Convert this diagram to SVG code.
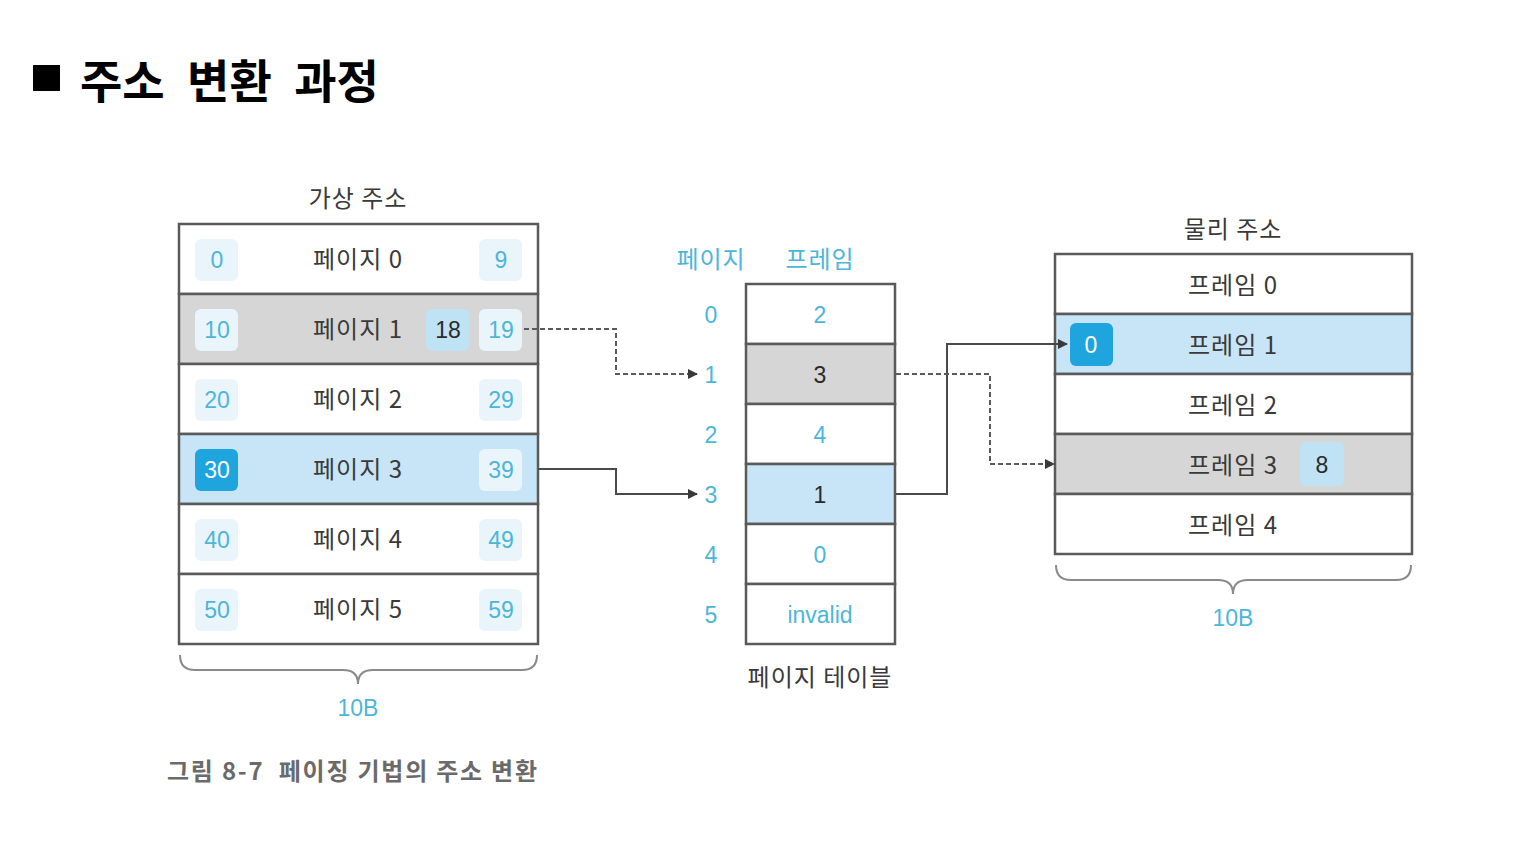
<svg xmlns="http://www.w3.org/2000/svg" width="1530" height="853" viewBox="0 0 1530 853">
<style>
.t{font-family:"Noto Sans CJK KR","Liberation Sans",sans-serif;font-size:24px;letter-spacing:1px;fill:#3a3a3a;text-anchor:middle}
.c{font-family:"Liberation Sans","Noto Sans CJK KR",sans-serif;font-size:23px;fill:#4cb6da;text-anchor:middle}
.h{font-family:"Noto Sans CJK KR",sans-serif;font-size:24px;letter-spacing:1px;fill:#4cb6da;text-anchor:middle}
.d{font-family:"Liberation Sans","Noto Sans CJK KR",sans-serif;font-size:23px;fill:#2a2a2a;text-anchor:middle}
.w{font-family:"Liberation Sans","Noto Sans CJK KR",sans-serif;font-size:23px;fill:#ffffff;text-anchor:middle}
.row{stroke:#5a5a5a;stroke-width:2.5}
.white{fill:#ffffff}
.gray{fill:#d6d6d6}
.blue{fill:#c7e5f6}
.lb{fill:#eaf5fb}
.mb{fill:#bfe2f5}
.db{fill:#1ea5de}
.line{fill:none;stroke:#4a4a4a;stroke-width:2}
.dash{fill:none;stroke:#5a5a5a;stroke-width:2;stroke-dasharray:5 3}
.brace{fill:none;stroke:#8a8a8a;stroke-width:2}
</style>
<defs>
<marker id="ah" markerWidth="10" markerHeight="10" refX="9" refY="5" orient="auto" markerUnits="userSpaceOnUse">
<path d="M0,0 L10,5 L0,10 z" fill="#3a3a3a"/>
</marker>
</defs>
<rect width="1530" height="853" fill="#ffffff"/>
<g id="title">
<rect x="33" y="65" width="27" height="26" fill="#000"/>
<text x="80" y="98" style="font-family:'Noto Sans CJK KR',sans-serif;font-size:46px;font-weight:bold;fill:#000;word-spacing:12px">주소 변환 과정</text>
</g>

<g id="virtual">
<text class="t" x="358" y="207">가상 주소</text>
<rect class="row white" x="179" y="224" width="359" height="70"/>
<rect class="row gray" x="179" y="294" width="359" height="70"/>
<rect class="row white" x="179" y="364" width="359" height="70"/>
<rect class="row blue" x="179" y="434" width="359" height="70"/>
<rect class="row white" x="179" y="504" width="359" height="70"/>
<rect class="row white" x="179" y="574" width="359" height="70"/>
<rect class="lb" x="195" y="239" width="43" height="42" rx="6"/><text class="c" x="217" y="268">0</text>
<text class="t" x="358" y="268">페이지 0</text>
<rect class="lb" x="479" y="239" width="43" height="42" rx="6"/><text class="c" x="501" y="268">9</text>
<rect class="lb" x="195" y="309" width="43" height="42" rx="6"/><text class="c" x="217" y="338">10</text>
<text class="t" x="358" y="338">페이지 1</text>
<rect class="mb" x="426" y="309" width="43" height="42" rx="6"/><text class="d" x="448" y="338">18</text>
<rect class="lb" x="479" y="309" width="43" height="42" rx="6"/><text class="c" x="501" y="338">19</text>
<rect class="lb" x="195" y="379" width="43" height="42" rx="6"/><text class="c" x="217" y="408">20</text>
<text class="t" x="358" y="408">페이지 2</text>
<rect class="lb" x="479" y="379" width="43" height="42" rx="6"/><text class="c" x="501" y="408">29</text>
<rect class="db" x="195" y="449" width="43" height="42" rx="6"/><text class="w" x="217" y="478">30</text>
<text class="t" x="358" y="478">페이지 3</text>
<rect class="lb" x="479" y="449" width="43" height="42" rx="6"/><text class="c" x="501" y="478">39</text>
<rect class="lb" x="195" y="519" width="43" height="42" rx="6"/><text class="c" x="217" y="548">40</text>
<text class="t" x="358" y="548">페이지 4</text>
<rect class="lb" x="479" y="519" width="43" height="42" rx="6"/><text class="c" x="501" y="548">49</text>
<rect class="lb" x="195" y="589" width="43" height="42" rx="6"/><text class="c" x="217" y="618">50</text>
<text class="t" x="358" y="618">페이지 5</text>
<rect class="lb" x="479" y="589" width="43" height="42" rx="6"/><text class="c" x="501" y="618">59</text>
<path class="brace" d="M180,655 Q180,670 195,670 L343,670 Q358,670 358,684 Q358,670 373,670 L522,670 Q537,670 537,655"/>
<text class="c" x="358" y="716">10B</text>
</g>

<g id="pagetable">
<text class="h" x="711" y="268">페이지</text>
<text class="h" x="820" y="268">프레임</text>
<rect class="row white" x="746" y="284" width="149" height="60"/>
<rect class="row gray" x="746" y="344" width="149" height="60"/>
<rect class="row white" x="746" y="404" width="149" height="60"/>
<rect class="row blue" x="746" y="464" width="149" height="60"/>
<rect class="row white" x="746" y="524" width="149" height="60"/>
<rect class="row white" x="746" y="584" width="149" height="60"/>
<text class="c" x="711" y="323">0</text><text class="c" x="820" y="323">2</text>
<text class="c" x="711" y="383">1</text><text class="d" x="820" y="383">3</text>
<text class="c" x="711" y="443">2</text><text class="c" x="820" y="443">4</text>
<text class="c" x="711" y="503">3</text><text class="d" x="820" y="503">1</text>
<text class="c" x="711" y="563">4</text><text class="c" x="820" y="563">0</text>
<text class="c" x="711" y="623">5</text><text class="c" x="820" y="623">invalid</text>
<text class="t" x="820" y="686">페이지 테이블</text>
</g>

<g id="physical">
<text class="t" x="1233" y="238">물리 주소</text>
<rect class="row white" x="1055" y="254" width="357" height="60"/>
<rect class="row blue" x="1055" y="314" width="357" height="60"/>
<rect class="row white" x="1055" y="374" width="357" height="60"/>
<rect class="row gray" x="1055" y="434" width="357" height="60"/>
<rect class="row white" x="1055" y="494" width="357" height="60"/>
<text class="t" x="1233" y="294">프레임 0</text>
<rect class="db" x="1070" y="323" width="43" height="43" rx="6"/><text class="w" x="1091" y="353">0</text>
<text class="t" x="1233" y="354">프레임 1</text>
<text class="t" x="1233" y="414">프레임 2</text>
<text class="t" x="1233" y="474">프레임 3</text>
<rect class="mb" x="1300" y="442" width="44" height="44" rx="6"/><text class="d" x="1322" y="473">8</text>
<text class="t" x="1233" y="534">프레임 4</text>
<path class="brace" d="M1056,565 Q1056,580 1071,580 L1218,580 Q1233,580 1233,594 Q1233,580 1248,580 L1396,580 Q1411,580 1411,565"/>
<text class="c" x="1233" y="626">10B</text>
</g>

<g id="connectors">
<path class="dash" d="M524,329 L616,329 L616,374 L697,374" marker-end="url(#ah)"/>
<path class="line" d="M538,469 L616,469 L616,494 L697,494" marker-end="url(#ah)"/>
<path class="line" d="M896,494 L947,494 L947,344 L1067,344" marker-end="url(#ah)"/>
<path class="dash" d="M896,374 L990,374 L990,464 L1054,464" marker-end="url(#ah)"/>
</g>

<g id="caption">
<text x="167" y="780" xml:space="preserve" style="font-family:'Noto Sans CJK KR',sans-serif;font-size:24px;font-weight:bold;fill:#6a6a6a" textLength="370" lengthAdjust="spacing">그림 8-7  페이징 기법의 주소 변환</text>
</g>
</svg>
